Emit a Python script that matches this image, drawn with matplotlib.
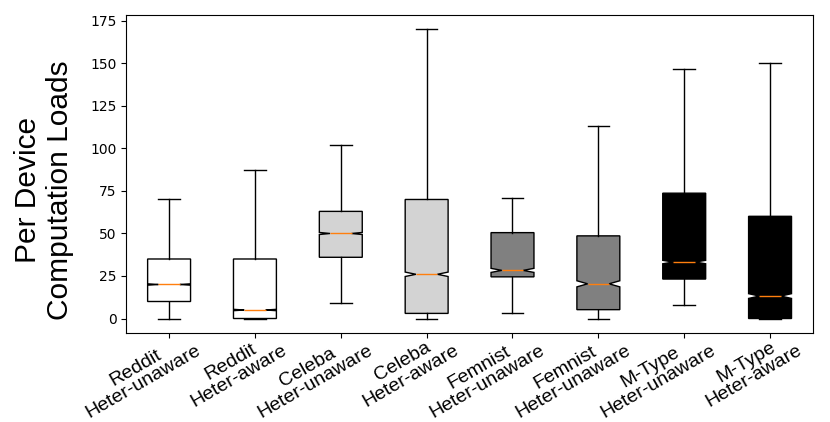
import numpy as np
import matplotlib
matplotlib.use('Agg')
import matplotlib.pyplot as plt
import matplotlib.transforms as mtransforms

# 数据
labels = ['Reddit\nHeter-unaware', 'Reddit\nHeter-aware',
          'Celeba\nHeter-unaware', 'Celeba\nHeter-aware',
          'Femnist\nHeter-unaware', 'Femnist\nHeter-unaware',
          'M-Type\nHeter-unaware', 'M-Type\nHeter-aware']
whislo = [0, 0, 9, 0, 3.5, 0, 8.2, 0]
q1 = [10, 0, 36, 3, 24.5, 5.2, 23.2, 0]
med = [20, 5, 50, 26, 28.3, 20.4, 33.2, 13.2]
q3 = [35, 35, 63, 70, 50.5, 48.6, 73.7, 60.1]
whishi = [70, 87.5, 102, 170, 70.8, 113, 147, 150.4]
notch_half = [0.4, 0.4, 0.6, 1.3, 1.2, 1.8, 1.0, 1.4]
colors = ['white', 'white', 'lightgray', 'lightgray',
          'gray', 'gray', 'black', 'black']

stats = []
for i in range(len(labels)):
    stats.append({
        'whislo': whislo[i], 'q1': q1[i], 'med': med[i], 'q3': q3[i],
        'whishi': whishi[i], 'cilo': med[i] - notch_half[i],
        'cihi': med[i] + notch_half[i], 'fliers': [],
    })

fig = plt.figure(figsize=(8.3, 4.22), dpi=100)
ax = fig.add_axes([0.152, 0.211, 0.8275, 0.7535])

positions = np.arange(1, len(labels) + 1)
bp = ax.bxp(stats, positions=positions, widths=0.5, shownotches=True,
            patch_artist=True, showfliers=False)
for patch, c in zip(bp['boxes'], colors):
    patch.set_facecolor(c)
    patch.set_edgecolor('black')
for m in bp['medians']:
    m.set_color('#ff7f0e')

ax.set_xlim(0.5, 8.5)
ax.set_yticks(np.arange(0, 176, 25))
ax.tick_params(axis='y', labelsize=10)
ax.set_xticks(positions)
ax.set_xticklabels(labels, rotation=30, ha='right', multialignment='center',
                   fontsize=14, family='Liberation Sans', linespacing=0.95)
# 标签整体右移、上移一点
offset = mtransforms.ScaledTranslation(35 / 100, 15 / 100, fig.dpi_scale_trans)
for lab in ax.get_xticklabels():
    lab.set_transform(lab.get_transform() + offset)

ax.set_ylabel('Per Device\nComputation Loads', fontsize=21.5,
              family='Liberation Sans')
ax.yaxis.set_label_coords(-0.076, 0.45)

plt.savefig('out.png', dpi=100)
